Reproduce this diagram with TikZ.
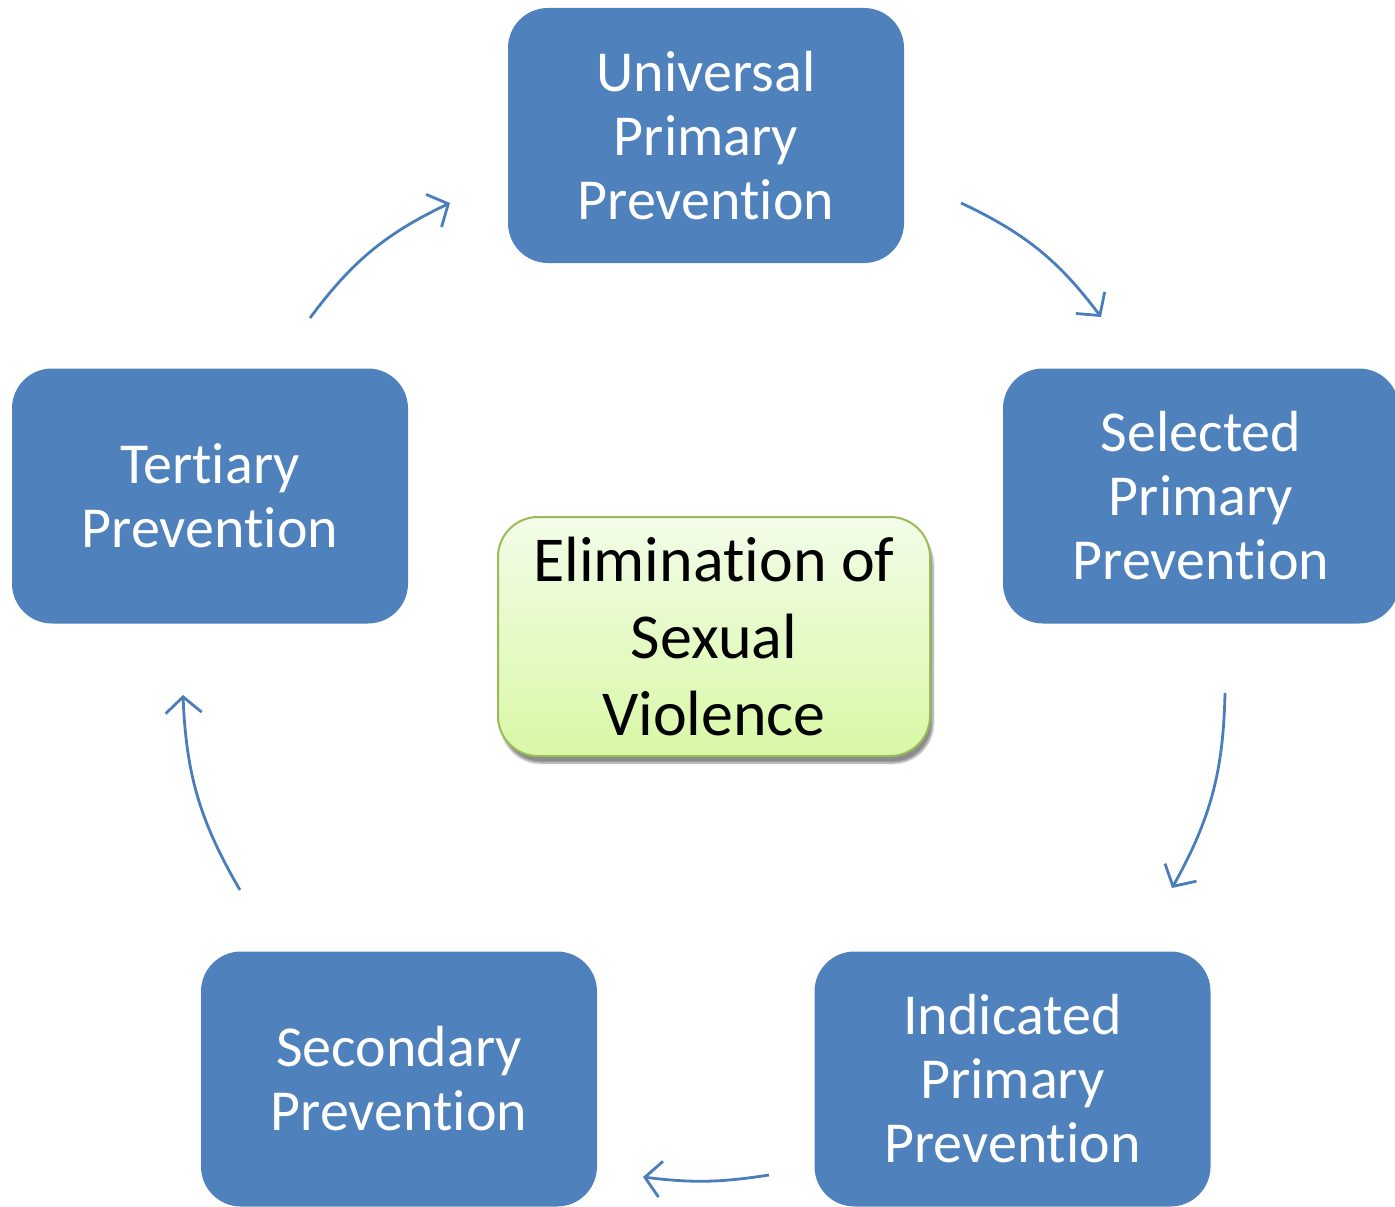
\documentclass[tikz,border=0pt]{standalone}
\usepackage{fontspec}
\setmainfont{Carlito}[RawFeature={-liga;-clig;-calt;-dlig}]
\usetikzlibrary{arrows.meta,shadows.blur}
\definecolor{boxblue}{HTML}{4F81BD}
\definecolor{arrblue}{HTML}{4A7EBB}
\definecolor{gtop}{HTML}{F3FCE8}
\definecolor{gbot}{HTML}{D8F8A6}
\definecolor{gborder}{HTML}{9BBB59}
\tikzset{
  stage/.style={draw=none, fill=boxblue, rounded corners=40pt, minimum width=396pt, minimum height=255pt,
    text=white, align=center, font=\fontsize{58pt}{64pt}\selectfont, inner sep=0pt},
  goal/.style={draw=gborder, line width=2pt, top color=gtop, bottom color=gbot, rounded corners=40pt,
    minimum width=432pt, minimum height=239pt, align=center, font=\fontsize{64pt}{77pt}\selectfont,
    inner sep=0pt, blur shadow={shadow xshift=3pt, shadow yshift=-7pt, shadow blur steps=8, shadow blur extra rounding=6pt, shadow opacity=45}},
  cyc/.style={draw=arrblue, line width=2.8pt, -{Straight Barb[length=16pt,width=36pt,line width=2.8pt]}}
}
\begin{document}
\begin{tikzpicture}[x=1pt,y=-1pt]
\useasboundingbox (0,0) rectangle (1395,1207);
\node[stage] (uni) at (706,135.5) {Universal\\Primary\\Prevention};
\node[stage] (sel) at (1201,496) {Selected\\Primary\\Prevention};
\node[stage] (ind) at (1012.5,1079) {Indicated\\Primary\\Prevention};
\node[stage] (sec) at (399,1079) {Secondary\\Prevention};
\node[stage] (ter) at (210,496) {Tertiary\\Prevention};
\node[goal] (goal) at (714,636.5) {Elimination of\\Sexual\\Violence};
\coordinate (a1s) at (310,318); \coordinate (a1e) at (450,203);
\coordinate (a2s) at (961,203); \coordinate (a2e) at (1101,317);
\coordinate (a3s) at (1225,693); \coordinate (a3e) at (1172,888);
\coordinate (a4s) at (769,1175); \coordinate (a4e) at (643,1177);
\coordinate (a5s) at (240,890); \coordinate (a5e) at (183,695);
\draw[cyc] (a1s) to[bend left=14] (a1e);
\draw[cyc] (a2s) to[bend left=14] (a2e);
\draw[cyc] (a3s) to[bend left=14] (a3e);
\draw[cyc] (a4s) to[bend left=8] (a4e);
\draw[cyc] (a5s) to[bend left=14] (a5e);
\end{tikzpicture}
\end{document}
